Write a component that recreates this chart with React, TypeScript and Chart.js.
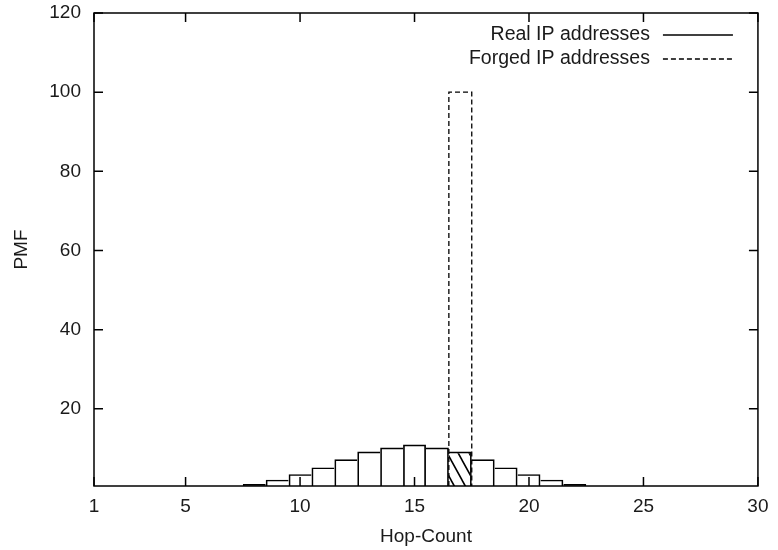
import React, { useEffect, useRef } from "react";
import { Chart, registerables } from "chart.js";

Chart.register(...registerables);

// ---- data ----
const hops = [8, 9, 10, 11, 12, 13, 14, 15, 16, 17, 18, 19, 20, 21, 22];
const realPmf = [1.0, 2.1, 3.5, 5.2, 7.25, 9.2, 10.2, 11.0, 10.2, 9.2, 7.25, 5.2, 3.5, 2.1, 1.0];
const forgedHops = [17];
const forgedPmf = [100];
const binWidth = 1;
const xTicks = [1, 5, 10, 15, 20, 25, 30];
const yTicks = [20, 40, 60, 80, 100, 120];
const xMin = 1;
const xMax = 30;
const yMin = 0.5;
const yMax = 120;
const seriesLabels = ["Real IP addresses", "Forged IP addresses"];
const xTitle = "Hop-Count";
const yTitle = "PMF";

const FONT_FAMILY = "'Liberation Sans', Arial, Helvetica, sans-serif";
const TEXT_COLOR = "#1a1a1a";
const LINE_COLOR = "#000";
const BAR_BW = 1.7;

function makeHatch(): CanvasPattern | string {
  const w = 11;
  const h = 20;
  const pc = document.createElement("canvas");
  pc.width = w;
  pc.height = h;
  const p = pc.getContext("2d");
  if (!p) return "rgba(0,0,0,0)";
  p.strokeStyle = "#000";
  p.lineWidth = 1.6;
  p.beginPath();
  p.moveTo(-w, -h);
  p.lineTo(2 * w, 2 * h);
  p.moveTo(0, -h);
  p.lineTo(3 * w, 2 * h);
  p.moveTo(-2 * w, -h);
  p.lineTo(w, 2 * h);
  p.stroke();
  const pat = p.createPattern(pc, "repeat");
  return pat || "rgba(0,0,0,0)";
}

const framePlugin = {
  id: "gnuFrame",
  afterDatasetsDraw(chart: any) {
    const { ctx, chartArea: a, scales } = chart;
    const tl = 9;
    ctx.save();
    ctx.strokeStyle = LINE_COLOR;
    ctx.lineWidth = 1.5;
    ctx.setLineDash([]);
    ctx.strokeRect(a.left, a.top, a.right - a.left, a.bottom - a.top);
    ctx.beginPath();
    scales.x.ticks.forEach((t: any) => {
      const px = scales.x.getPixelForValue(t.value);
      ctx.moveTo(px, a.bottom);
      ctx.lineTo(px, a.bottom - tl);
      ctx.moveTo(px, a.top);
      ctx.lineTo(px, a.top + tl);
    });
    scales.y.ticks.forEach((t: any) => {
      const py = scales.y.getPixelForValue(t.value);
      ctx.moveTo(a.left, py);
      ctx.lineTo(a.left + tl, py);
      ctx.moveTo(a.right, py);
      ctx.lineTo(a.right - tl, py);
    });
    ctx.stroke();

    // legend (text to the left of line sample, gnuplot style)
    const textRight = a.right - 108;
    const lineStart = a.right - 95;
    const lineEnd = a.right - 25;
    const rowY = [a.top + 22, a.top + 46];
    ctx.font = `19.5px ${FONT_FAMILY}`;
    ctx.fillStyle = TEXT_COLOR;
    ctx.textAlign = "right";
    ctx.textBaseline = "middle";
    chart.data.datasets.forEach((ds: any, i: number) => {
      const y = rowY[i];
      ctx.fillText(ds.label, textRight, y);
      ctx.beginPath();
      ctx.lineWidth = 1.3;
      ctx.setLineDash(ds.borderDash || []);
      ctx.moveTo(lineStart, y);
      ctx.lineTo(lineEnd, y);
      ctx.stroke();
    });
    ctx.restore();
  },
};

export default function App() {
  const ref = useRef<HTMLCanvasElement>(null);

  useEffect(() => {
    const canvas = ref.current;
    if (!canvas) return;
    const hatch = makeHatch();

    const realData = hops.map((h, i) => ({ x: h, y: realPmf[i] }));
    const forgedOutline: { x: number; y: number }[] = [];
    forgedHops.forEach((h, i) => {
      const v = forgedPmf[i];
      forgedOutline.push({ x: h - binWidth / 2, y: yMin });
      forgedOutline.push({ x: h - binWidth / 2, y: v });
      forgedOutline.push({ x: h + binWidth / 2, y: v });
      forgedOutline.push({ x: h + binWidth / 2, y: yMin });
    });

    const font = { family: FONT_FAMILY, size: 19 };

    const chart = new Chart(canvas, {
      type: "bar",
      data: {
        datasets: [
          {
            type: "bar",
            label: seriesLabels[0],
            data: realData as any,
            backgroundColor: (c: any) =>
              c.raw && forgedHops.includes(c.raw.x) ? hatch : "rgba(0,0,0,0)",
            borderColor: LINE_COLOR,
            borderWidth: (c: any) => {
              const i = c.dataIndex;
              if (i == null) return BAR_BW;
              const v = realPmf[i];
              const hasLeft = i > 0 && hops[i - 1] === hops[i] - 1;
              const hasRight = i < hops.length - 1 && hops[i + 1] === hops[i] + 1;
              const left = !hasLeft || v >= realPmf[i - 1] ? BAR_BW : 0;
              const right = !hasRight || v > realPmf[i + 1] ? BAR_BW : 0;
              return { top: BAR_BW, left, right, bottom: 0 };
            },
            inflateAmount: 0,
            barPercentage: 1,
            categoryPercentage: 1,
            grouped: false,
          } as any,
          {
            type: "line",
            label: seriesLabels[1],
            data: forgedOutline as any,
            borderColor: LINE_COLOR,
            borderWidth: 1.3,
            borderDash: [5, 3],
            pointRadius: 0,
            pointHoverRadius: 0,
            fill: false,
            tension: 0,
          } as any,
        ],
      },
      options: {
        animation: false,
        responsive: true,
        maintainAspectRatio: false,
        layout: { padding: { top: 13, right: 11, left: 0, bottom: 0 } },
        plugins: {
          legend: { display: false },
          tooltip: { enabled: false },
        },
        scales: {
          x: {
            type: "linear",
            min: xMin,
            max: xMax,
            offset: false,
            afterBuildTicks: (s: any) => {
              s.ticks = xTicks.map((v) => ({ value: v }));
            },
            afterFit: (s: any) => {
              s.height = 64;
            },
            grid: { display: false, drawTicks: false },
            border: { display: false },
            ticks: {
              font,
              color: TEXT_COLOR,
              padding: 9.5,
              maxRotation: 0,
              autoSkip: false,
              callback: (v: any) => String(v),
            },
            title: {
              display: true,
              text: xTitle,
              font,
              color: TEXT_COLOR,
              padding: { top: 0, bottom: 2 },
            },
          },
          y: {
            type: "linear",
            min: yMin,
            max: yMax,
            afterBuildTicks: (s: any) => {
              s.ticks = yTicks.map((v) => ({ value: v }));
            },
            afterFit: (s: any) => {
              s.width = 94;
              s.paddingTop = 0;
              s.paddingBottom = 0;
            },
            grid: { display: false, drawTicks: false },
            border: { display: false },
            ticks: {
              font,
              color: TEXT_COLOR,
              padding: 13,
              autoSkip: false,
              callback: (v: any) => String(v),
            },
            title: {
              display: true,
              text: yTitle,
              font,
              color: TEXT_COLOR,
              padding: { top: 10, bottom: 0 },
            },
          },
        },
      } as any,
      plugins: [framePlugin],
    });

    return () => chart.destroy();
  }, []);

  return (
    <div
      style={{
        position: "fixed",
        left: 0,
        top: 0,
        width: 778,
        height: 550,
        background: "#fff",
      }}
    >
      <canvas ref={ref} />
    </div>
  );
}
